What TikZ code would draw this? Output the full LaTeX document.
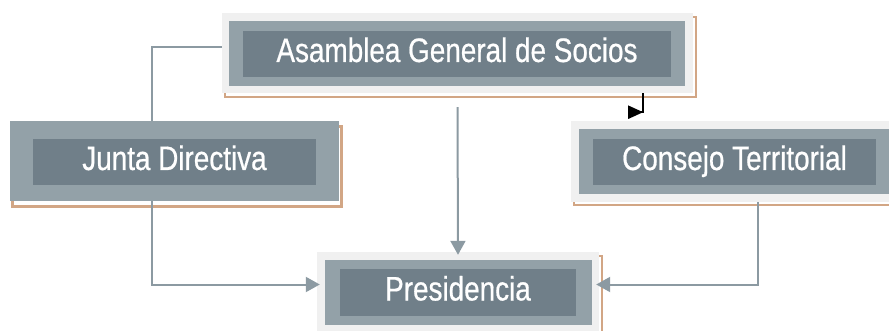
\documentclass[tikz,border=0pt]{standalone}
\usepackage{fontspec}
\setmainfont[FakeStretch=0.82, FakeBold=0.6]{Liberation Sans}
\usetikzlibrary{arrows.meta,backgrounds}
\definecolor{framegray}{HTML}{F0F0F0}
\definecolor{plategray}{HTML}{93A1A8}
\definecolor{titlegray}{HTML}{707F89}
\definecolor{shadowtan}{HTML}{D2A685}
\definecolor{linegray}{HTML}{8C9AA2}
\begin{document}
\begin{tikzpicture}[
    x=1pt, y=-1pt,
    outerbox/.style={fill=framegray, inner sep=0pt},
    platebox/.style={fill=plategray, inner sep=0pt},
    titlebox/.style={fill=titlegray, text=white, inner sep=0pt,
      text height=25pt, text depth=9pt, font=\fontsize{34}{40}\selectfont},
    tanline/.style={draw=shadowtan, line width=2.5pt},
    link/.style={draw=linegray, line width=2pt},
    linkarrow/.style={link, -{Triangle[length=14pt, width=15pt]}, shorten >=-3pt},
  ]
    \useasboundingbox (0,0) rectangle (889,331);
    % Asamblea General de Socios
    \node[outerbox, minimum width=471pt, minimum height=80pt] (asmouter) at (457.5,53) {};
    \node[platebox, minimum width=456pt, minimum height=65pt] (asmplate) at (457,53.5) {};
    \node[titlebox, minimum width=428pt, minimum height=46pt] (asm) at (457,54) {Asamblea General de Socios};
    % Junta Directiva (no light frame)
    \node[platebox, minimum width=329pt, minimum height=80pt] (juntaplate) at (174.5,161) {};
    \node[titlebox, minimum width=283pt, minimum height=46pt] (junta) at (174.5,162) {Junta Directiva};
    % Consejo Territorial
    \node[outerbox, minimum width=327pt, minimum height=81pt] (consouter) at (734.5,161.5) {};
    \node[platebox, minimum width=311pt, minimum height=65pt] (consplate) at (734.5,161.5) {};
    \node[titlebox, minimum width=283pt, minimum height=46pt] (cons) at (734.5,162) {Consejo Territorial};
    % Presidencia
    \node[outerbox, minimum width=282pt, minimum height=81pt] (presouter) at (458,292.5) {};
    \node[platebox, minimum width=267pt, minimum height=65pt] (presplate) at (458.5,292.5) {};
    \node[titlebox, minimum width=236pt, minimum height=47pt] (pres) at (458,292.5) {Presidencia};
    % tan shadows and hidden link behind the boxes
    \begin{scope}[on background layer]
      \foreach \n/\dx/\dy in {asmouter/3/4, juntaplate/2.5/5.5, consouter/3/3, presouter/3/4}
        \draw[tanline] ([shift={(\dx,\dy)}]\n.south west) rectangle ([shift={(\dx,\dy)}]\n.north east);
      \draw[link] ([yshift=6pt]asmouter.west) -| ([xshift=-22.5pt]juntaplate.north);
      \draw[link] ([xshift=-22.5pt]juntaplate.south) |- ([yshift=8pt]presouter.west);
      \draw[link] ([xshift=23.5pt]consouter.south) |- ([yshift=8pt]presouter.east);
    \end{scope}
    % arrows into Presidencia
    \draw[linkarrow] ([yshift=-14pt]asmouter.south) -- (presouter.north);
    \draw[linkarrow] ([yshift=8pt,xshift=-14pt]presouter.west) -- ([yshift=8pt]presouter.west);
    \draw[linkarrow] ([yshift=8pt,xshift=14pt]presouter.east) -- ([yshift=8pt]presouter.east);
    % small black elbow
    \draw[line width=2pt, -{Triangle[reversed, length=15pt, width=13pt]}]
      ([xshift=-50pt]asmouter.south east) -- ++(0,19) -- ++(-15,0);
\end{tikzpicture}
\end{document}
